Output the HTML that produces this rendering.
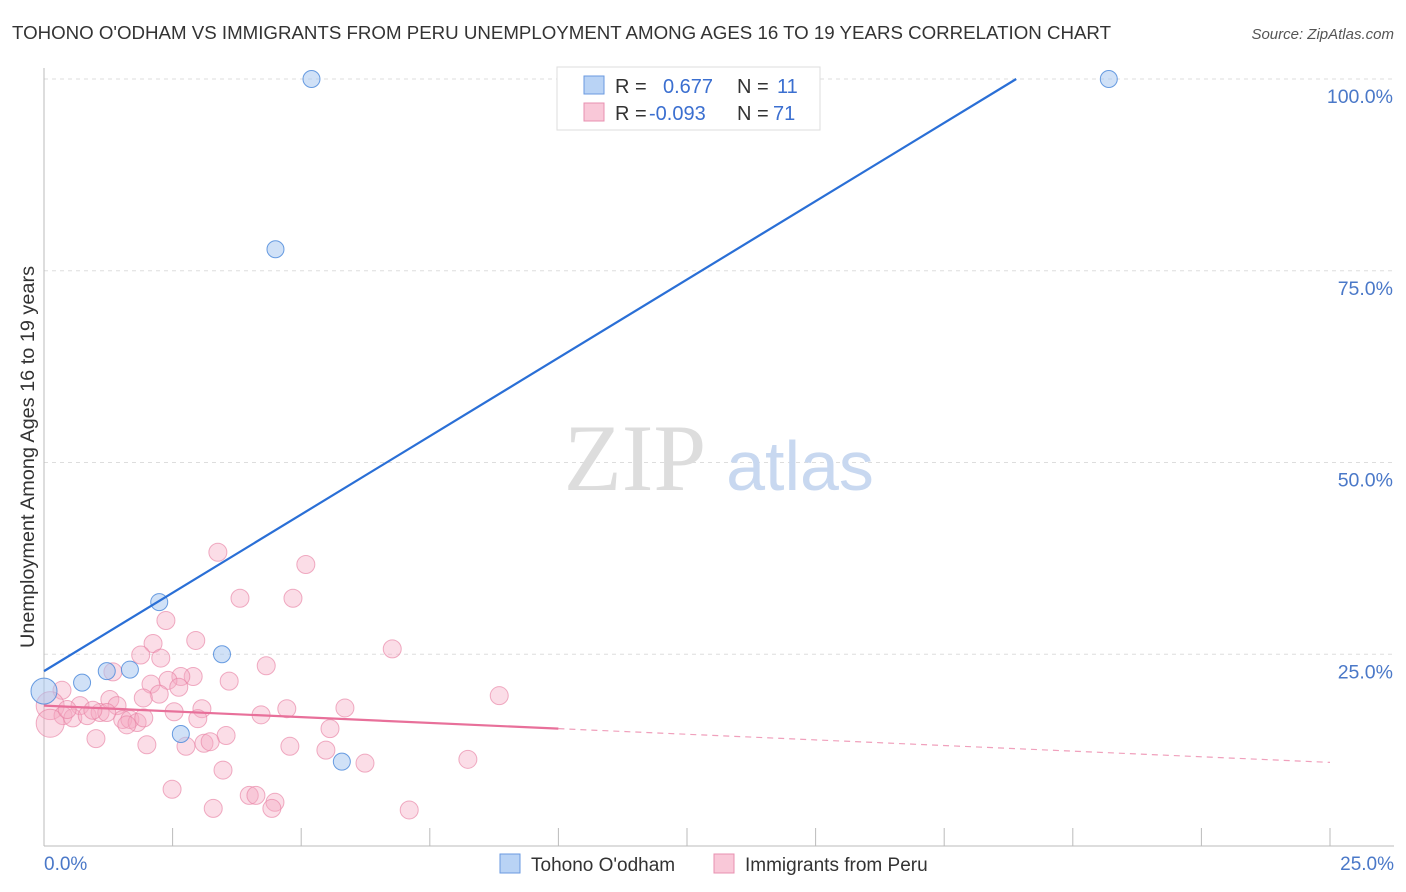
<!DOCTYPE html>
<html><head><meta charset="utf-8"><style>
body{margin:0;background:#fff;font-family:"Liberation Sans",sans-serif}
svg{display:block}
</style></head><body>
<svg width="1406" height="892" viewBox="0 0 1406 892">
<text x="12" y="39" font-size="18.7" fill="#333" textLength="1099" lengthAdjust="spacingAndGlyphs">TOHONO O'ODHAM VS IMMIGRANTS FROM PERU UNEMPLOYMENT AMONG AGES 16 TO 19 YEARS CORRELATION CHART</text>
<text x="1394" y="39" font-size="15" fill="#555" font-style="italic" text-anchor="end">Source: ZipAtlas.com</text>
<g id="grid"></g>
<text x="635" y="490" font-size="95" fill="#ddd" font-family="Liberation Serif,serif" text-anchor="middle">ZIP</text>
<text x="800" y="490" font-size="70" fill="#c8d8f0" text-anchor="middle">atlas</text>
<g id="marks"></g>
<text transform="translate(34,457) rotate(-90)" font-size="19" fill="#333" text-anchor="middle" textLength="382" lengthAdjust="spacingAndGlyphs">Unemployment Among Ages 16 to 19 years</text>
<text x="44" y="870" font-size="19" fill="#4a78c8">0.0%</text>
<text x="1394" y="870" font-size="19" fill="#4a78c8" text-anchor="end">25.0%</text>
<g>
<rect x="557" y="67" width="263" height="63" fill="#fff" stroke="#ddd"/>
<rect x="584" y="76" width="20" height="18" fill="#b9d3f5" stroke="#6a9ae0"/>
<rect x="584" y="103" width="20" height="18" fill="#f9c8d8" stroke="#e890b0"/>
<text x="615" y="93" font-size="20" fill="#333">R = <tspan x="663" fill="#3b6fd0">0.677</tspan><tspan x="737" fill="#333">N = </tspan><tspan x="777" fill="#3b6fd0">11</tspan></text>
<text x="615" y="120" font-size="20" fill="#333">R = <tspan x="649" fill="#3b6fd0">-0.093</tspan><tspan x="737" fill="#333">N = </tspan><tspan x="773" fill="#3b6fd0">71</tspan></text>
</g>
<g>
<rect x="500" y="854" width="20" height="19" fill="#b9d3f5" stroke="#6a9ae0"/>
<text x="531" y="871" font-size="19" fill="#333">Tohono O'odham</text>
<rect x="714" y="854" width="20" height="19" fill="#f9c8d8" stroke="#e890b0"/>
<text x="745" y="871" font-size="19" fill="#333">Immigrants from Peru</text>
</g>
</svg>
<script>
const yTicks=[25,50,75,100];
const xTicks=[0,2.5,5,7.5,10,12.5,15,17.5,20,22.5,25];
const blueX=[5.2,20.7,4.5,2.24,3.46,1.67,1.22,0.74,0,2.66,5.79];
const blueY=[100,100,77.8,31.8,25,23,22.8,21.3,20.2,14.6,11];
const pinkX=[3.38,5.09,3.81,4.84,2.37,2.95,2.12,6.77,1.88,2.27,1.34,4.32,3.6,2.9,2.66,2.41,2.08,2.62,2.24,1.93,8.85,0.35,5.85,4.72,4.22,3.07,2.53,2.99,5.56,3.54,1.01,2.0,2.76,3.11,3.23,4.78,5.48,6.24,8.24,3.48,2.49,3.99,4.12,4.49,4.43,3.29,7.1,0.12,0.7,0.37,0.56,0.84,1.09,1.28,1.42,1.53,1.67,1.81,1.94,1.22,0.95,0.12,0.45,1.61];
const pinkY=[38.3,36.7,32.3,32.3,29.4,26.8,26.4,25.7,24.9,24.5,22.7,23.5,21.5,22.1,22.1,21.6,21.1,20.7,19.8,19.3,19.6,20.3,18.0,17.9,17.1,17.9,17.5,16.6,15.3,14.4,14.0,13.2,13.0,13.4,13.6,13.0,12.5,10.8,11.3,9.9,7.4,6.6,6.6,5.7,4.9,4.9,4.7,18.3,18.3,17.0,16.7,17.0,17.4,19.1,18.3,16.5,16.5,16.1,16.7,17.4,17.7,16.0,17.8,15.8];
const blueLine=[[0,22.8],[18.9,100]];
const pinkLine=[[0,18.3],[10,15.3]];
const pinkDash=[[10,15.3],[25,10.9]];
const X=v=>44+v*51.44, Y=v=>846-v*7.67;
const NS='http://www.w3.org/2000/svg';
function mk(t,a,p){const e=document.createElementNS(NS,t);for(const k in a)e.setAttribute(k,a[k]);p.appendChild(e);return e;}
const g=document.getElementById('grid'), m=document.getElementById('marks');
yTicks.forEach(t=>{
 const l=mk('line',{x1:44,x2:1394,y1:Y(t),y2:Y(t),stroke:'#ddd','stroke-dasharray':'4,4'},g);
 
 
 const tx=mk('text',{x:1393,y:Y(t)+24,'font-size':19.5,fill:'#4a78c8','text-anchor':'end'},g);
 tx.textContent=t.toFixed(1)+'%';
 
 
});
const ax=mk('line',{x1:44,x2:44,y1:68,y2:846,stroke:'#bbb'},g);


const bx=mk('line',{x1:44,x2:1394,y1:846,y2:846,stroke:'#bbb'},g);


xTicks.forEach(t=>{
 const l=mk('line',{x1:X(t),x2:X(t),y1:828,y2:846,stroke:'#bbb'},g);
 
 
});
pinkX.forEach((v,i)=>{
 const big=(i===47||i===61);
 const c=mk('circle',{cx:X(v),cy:Y(pinkY[i]),r:big?14:9,fill:'rgba(246,170,195,0.4)',stroke:'rgba(232,130,165,0.65)','stroke-width':1},m);
 
 
});
blueX.forEach((v,i)=>{
 const c=mk('circle',{cx:X(v),cy:Y(blueY[i]),r:i===8?13:8.5,fill:'rgba(170,200,240,0.55)',stroke:'rgba(80,140,220,0.85)','stroke-width':1},m);
 
 
});
const bl=mk('line',{x1:X(blueLine[0][0]),y1:Y(blueLine[0][1]),x2:X(blueLine[1][0]),y2:Y(blueLine[1][1]),stroke:'#2a6fd6','stroke-width':2.2},m);


const pl=mk('line',{x1:X(pinkLine[0][0]),y1:Y(pinkLine[0][1]),x2:X(pinkLine[1][0]),y2:Y(pinkLine[1][1]),stroke:'#e8709a','stroke-width':2.2},m);


const pd=mk('line',{x1:X(pinkDash[0][0]),y1:Y(pinkDash[0][1]),x2:X(pinkDash[1][0]),y2:Y(pinkDash[1][1]),stroke:'#f0a0bc','stroke-width':1.2,'stroke-dasharray':'6,5'},m);


</script>
</body></html>
